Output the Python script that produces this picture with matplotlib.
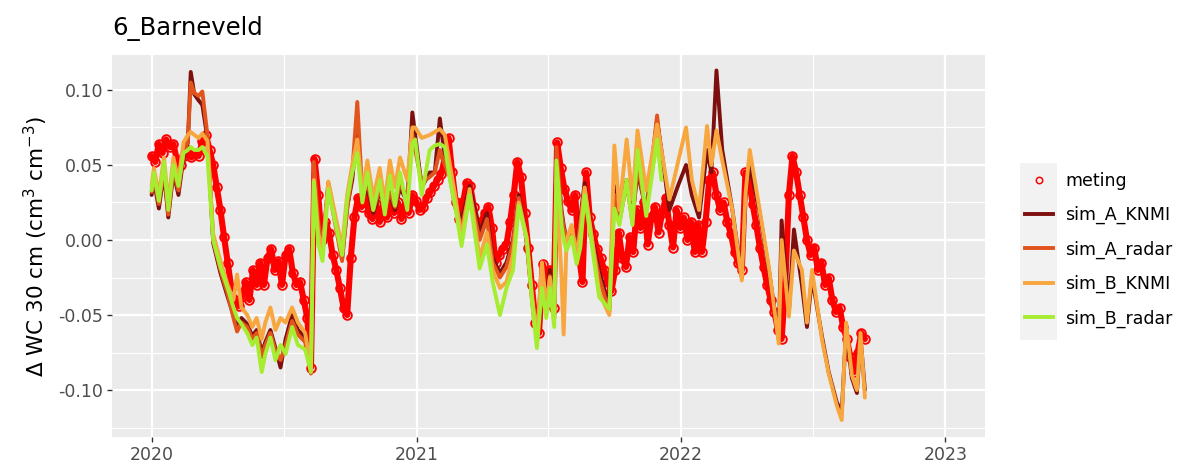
import matplotlib
matplotlib.use("Agg")
import matplotlib.pyplot as plt
from matplotlib.patches import Rectangle
from matplotlib.lines import Line2D
import pandas as pd

plt.rcParams['font.family'] = ['DejaVu Sans']

# ---------------------------------------------------------------- data
title = "6_Barneveld"
y_label = "\u0394 WC 30 cm (cm$^{3}$ cm$^{-3}$)"
x_tick_labels = ["2020", "2021", "2022", "2023"]
y_tick_values = [-0.10, -0.05, 0.00, 0.05, 0.10]
y_tick_labels = ["-0.10", "-0.05", "0.00", "0.05", "0.10"]
legend_labels = ["meting", "sim_A_KNMI", "sim_A_radar", "sim_B_KNMI", "sim_B_radar"]

# measured water content change, one reading every 5 days from 2020-01-01
meting_start = "2020-01-01"
meting_step = "5D"
meting = [
    0.056, 0.052, 0.064, 0.058, 0.067, 0.062, 0.064, 0.053, 0.050, 0.056,
    0.060, 0.055, 0.058, 0.056, 0.066, 0.070, 0.060, 0.050, 0.035, 0.020,
    0.002, -0.015, -0.032, -0.040, -0.044, -0.038, -0.028, -0.040, -0.020, -0.030,
    -0.015, -0.030, -0.012, -0.006, -0.020, -0.014, -0.030, -0.010, -0.006, -0.022,
    -0.030, -0.028, -0.040, -0.052, -0.085, 0.054, 0.030, 0.000, 0.012, 0.005,
    -0.010, -0.020, -0.032, -0.045, -0.050, -0.012, 0.015, 0.028, 0.022, 0.030,
    0.018, 0.014, 0.024, 0.012, 0.020, 0.015, 0.028, 0.018, 0.025, 0.014,
    0.022, 0.018, 0.030, 0.026, 0.020, 0.022, 0.028, 0.032, 0.036, 0.040,
    0.044, 0.055, 0.068, 0.045, 0.025, 0.014, 0.025, 0.038, 0.036, 0.022,
    0.010, 0.012, 0.018, 0.022, 0.008, -0.015, -0.010, -0.006, -0.003, 0.012,
    0.030, 0.052, 0.042, 0.018, -0.005, -0.030, -0.055, -0.062, -0.016, -0.030,
    -0.020, -0.045, 0.065, 0.048, 0.034, 0.026, 0.020, 0.030, -0.010, -0.028,
    0.045, 0.015, 0.004, -0.006, -0.012, -0.020, -0.028, -0.034, -0.020, 0.005,
    -0.012, -0.018, 0.002, -0.008, 0.020, 0.008, 0.025, -0.003, 0.015, 0.022,
    0.005, 0.018, 0.028, 0.010, -0.005, 0.020, 0.008, 0.015, 0.000, 0.012,
    -0.008, 0.010, -0.008, 0.012, 0.040, 0.045, 0.030, 0.020, 0.025, 0.012,
    0.004, -0.008, -0.015, -0.020, 0.045, 0.040, 0.024, 0.010, -0.005, -0.018,
    -0.030, -0.040, -0.048, -0.060, -0.066, -0.030, 0.030, 0.056, 0.045, 0.030,
    0.015, 0.000, -0.010, -0.005, -0.020, -0.015, -0.030, -0.025, -0.040, -0.048,
    -0.045, -0.058, -0.066, -0.078, -0.088, -0.075, -0.062, -0.066,
]

# simulated series share these dates; the radar runs stop in December 2021
sim_dates = [
    "2020-01-01", "2020-01-04", "2020-01-11", "2020-01-18", "2020-01-24",
    "2020-01-31", "2020-02-07", "2020-02-14", "2020-02-20", "2020-02-24",
    "2020-02-29", "2020-03-06", "2020-03-11", "2020-03-18", "2020-03-26",
    "2020-04-05", "2020-04-15", "2020-04-23", "2020-04-28", "2020-05-04",
    "2020-05-12", "2020-05-19", "2020-05-25", "2020-06-01", "2020-06-06",
    "2020-06-13", "2020-06-20", "2020-06-27", "2020-07-04", "2020-07-13",
    "2020-07-21", "2020-07-31", "2020-08-08", "2020-08-12", "2020-08-18",
    "2020-08-24", "2020-09-01", "2020-09-10", "2020-09-20", "2020-09-27",
    "2020-10-04", "2020-10-11", "2020-10-18", "2020-10-25", "2020-11-02",
    "2020-11-11", "2020-11-18", "2020-11-25", "2020-12-02", "2020-12-09",
    "2020-12-19", "2020-12-26", "2020-12-30", "2021-01-08", "2021-01-19",
    "2021-01-26", "2021-02-02", "2021-02-09", "2021-02-16", "2021-02-23",
    "2021-03-04", "2021-03-15", "2021-03-29", "2021-04-08", "2021-04-16",
    "2021-04-26", "2021-05-05", "2021-05-14", "2021-05-22", "2021-06-02",
    "2021-06-09", "2021-06-16", "2021-06-23", "2021-06-29", "2021-07-04",
    "2021-07-10", "2021-07-13", "2021-07-20", "2021-07-23", "2021-07-27",
    "2021-08-03", "2021-08-10", "2021-08-15", "2021-08-21", "2021-09-01",
    "2021-09-10", "2021-09-24", "2021-10-01", "2021-10-08", "2021-10-18",
    "2021-10-26", "2021-11-02", "2021-11-14", "2021-11-29", "2021-12-05",
    "2021-12-16", "2021-12-27", "2022-01-08", "2022-01-16", "2022-01-26",
    "2022-02-06", "2022-02-12", "2022-02-19", "2022-02-27", "2022-03-13",
    "2022-03-26", "2022-03-31", "2022-04-06", "2022-04-19", "2022-05-03",
    "2022-05-16", "2022-05-20", "2022-05-30", "2022-06-06", "2022-06-17",
    "2022-06-24", "2022-07-01", "2022-07-15", "2022-07-24", "2022-08-04",
    "2022-08-11", "2022-08-17", "2022-08-25", "2022-09-01", "2022-09-06",
    "2022-09-12",
]

sim_A_KNMI = [
    0.030, 0.040, 0.021, 0.045, 0.015, 0.045, 0.030, 0.055, 0.065, 0.112,
    0.097, 0.093, 0.090, 0.068, -0.002, -0.022, -0.038, -0.050, -0.058, -0.052,
    -0.056, -0.064, -0.060, -0.075, -0.068, -0.060, -0.072, -0.085, -0.066, -0.050,
    -0.060, -0.065, -0.088, 0.045, 0.010, -0.005, 0.038, 0.015, -0.012, 0.022,
    0.040, 0.075, 0.028, 0.035, 0.018, 0.032, 0.022, 0.030, 0.020, 0.035,
    0.025, 0.085, 0.070, 0.035, 0.045, 0.045, 0.081, 0.055, 0.045, 0.025,
    0.012, 0.036, 0.005, 0.018, -0.012, -0.022, -0.015, 0.000, 0.030, 0.002,
    -0.035, -0.062, -0.028, -0.040, -0.020, -0.050, 0.060, 0.020, 0.010, 0.000,
    0.008, -0.005, 0.015, 0.038, 0.000, -0.020, -0.045, 0.036, 0.015, 0.040,
    0.015, 0.045, 0.020, 0.080, 0.060, 0.020, 0.035, 0.050, 0.030, 0.015,
    0.060, 0.045, 0.113, 0.060, 0.020, -0.025, 0.030, 0.050, 0.020, -0.022,
    -0.066, 0.013, -0.048, 0.007, -0.030, -0.058, -0.025, -0.065, -0.088, -0.108,
    -0.115, -0.060, -0.092, -0.102, -0.065, -0.100,
]

sim_A_radar = [
    0.032, 0.042, 0.024, 0.048, 0.017, 0.047, 0.033, 0.058, 0.066, 0.105,
    0.098, 0.096, 0.099, 0.070, 0.000, -0.020, -0.036, -0.052, -0.061, -0.055,
    -0.058, -0.066, -0.062, -0.078, -0.070, -0.062, -0.074, -0.080, -0.070, -0.054,
    -0.063, -0.068, -0.089, 0.052, 0.012, -0.004, 0.036, 0.012, -0.014, 0.020,
    0.045, 0.092, 0.030, 0.038, 0.020, 0.034, 0.020, 0.032, 0.022, 0.038,
    0.028, 0.070, 0.060, 0.038, 0.042, 0.045, 0.060, 0.050, 0.042, 0.022,
    0.008, 0.032, 0.000, 0.014, -0.015, -0.025, -0.018, -0.002, 0.028, 0.000,
    -0.038, -0.065, -0.030, -0.045, -0.024, -0.052, 0.062, 0.018, 0.008, 0.002,
    0.006, -0.008, 0.012, 0.034, -0.003, -0.025, -0.048, 0.030, 0.012, 0.038,
    0.012, 0.050, 0.018, 0.083, 0.055,
]

sim_B_KNMI = [
    0.036, 0.048, 0.030, 0.055, 0.024, 0.055, 0.040, 0.065, 0.070, 0.072,
    0.070, 0.068, 0.071, 0.066, 0.004, -0.014, -0.030, -0.040, -0.023, -0.045,
    -0.050, -0.058, -0.052, -0.066, -0.055, -0.045, -0.060, -0.052, -0.055, -0.045,
    -0.055, -0.062, -0.085, 0.040, 0.005, -0.008, 0.039, 0.018, -0.005, 0.030,
    0.050, 0.067, 0.032, 0.053, 0.028, 0.048, 0.025, 0.053, 0.035, 0.055,
    0.040, 0.075, 0.075, 0.068, 0.070, 0.072, 0.074, 0.070, 0.050, 0.030,
    0.002, 0.034, -0.012, 0.005, -0.020, -0.032, -0.028, -0.010, 0.025, 0.002,
    -0.035, -0.065, -0.015, -0.045, -0.025, -0.052, 0.040, -0.025, -0.063, 0.000,
    0.010, -0.010, 0.005, 0.035, -0.002, -0.035, -0.050, 0.063, 0.020, 0.067,
    0.027, 0.073, 0.033, 0.077, 0.060, 0.027, 0.050, 0.075, 0.040, 0.020,
    0.076, 0.050, 0.073, 0.053, 0.020, -0.027, 0.030, 0.060, 0.022, -0.020,
    -0.069, 0.000, -0.051, -0.007, -0.020, -0.055, -0.020, -0.067, -0.089, -0.110,
    -0.120, -0.055, -0.090, -0.100, -0.062, -0.105,
]

sim_B_radar = [
    0.033, 0.045, 0.026, 0.052, 0.020, 0.050, 0.036, 0.058, 0.060, 0.062,
    0.060, 0.060, 0.062, 0.056, 0.000, -0.018, -0.032, -0.045, -0.052, -0.056,
    -0.062, -0.070, -0.065, -0.088, -0.076, -0.065, -0.080, -0.070, -0.076, -0.058,
    -0.070, -0.073, -0.088, 0.039, -0.002, -0.014, 0.034, 0.013, -0.010, 0.027,
    0.045, 0.058, 0.025, 0.045, 0.020, 0.040, 0.017, 0.043, 0.023, 0.045,
    0.020, 0.064, 0.067, 0.030, 0.060, 0.063, 0.064, 0.062, 0.040, 0.023,
    -0.004, 0.030, -0.019, -0.003, -0.028, -0.050, -0.032, -0.020, 0.023, 0.000,
    -0.040, -0.072, -0.032, -0.052, -0.032, -0.058, 0.053, 0.010, 0.000, -0.007,
    0.002, -0.016, -0.005, 0.030, -0.007, -0.038, -0.046, 0.021, 0.010, 0.040,
    0.010, 0.060, 0.016, 0.067, 0.040,
]

colors = {
    "meting": "#FF0000",
    "sim_A_KNMI": "#7E0F0F",
    "sim_A_radar": "#E2541C",
    "sim_B_KNMI": "#F8A63E",
    "sim_B_radar": "#A6EC30",
}

# ---------------------------------------------------------------- figure
fig = plt.figure(figsize=(12, 4.71), dpi=100)
ax = fig.add_axes([0.0933, 0.0722, 0.7275, 0.811])
ax.set_facecolor("#EBEBEB")
for s in ax.spines.values():
    s.set_visible(False)

# measurements: dense open circles forming a band
meting_dates = pd.date_range(meting_start, periods=len(meting), freq=meting_step)
ax.plot(meting_dates, meting, color=colors["meting"], linewidth=4.4,
        solid_joinstyle="round", solid_capstyle="round", zorder=2)
ax.plot(meting_dates, meting, linestyle="none", marker="o", markersize=6.2,
        markerfacecolor="none", markeredgecolor=colors["meting"],
        markeredgewidth=1.4, zorder=2)

dates = pd.to_datetime(sim_dates)
line_kw = dict(linewidth=2.8, solid_joinstyle="round", solid_capstyle="round")
ax.plot(dates[:len(sim_A_KNMI)], sim_A_KNMI, color=colors["sim_A_KNMI"], zorder=3, **line_kw)
ax.plot(dates[:len(sim_A_radar)], sim_A_radar, color=colors["sim_A_radar"], zorder=4, **line_kw)
ax.plot(dates[:len(sim_B_KNMI)], sim_B_KNMI, color=colors["sim_B_KNMI"], zorder=5, **line_kw)
ax.plot(dates[:len(sim_B_radar)], sim_B_radar, color=colors["sim_B_radar"], zorder=6, **line_kw)

# axes ranges: years 2020-2023 with a 5 % margin
x0 = pd.Timestamp("2020-01-01")
x1 = pd.Timestamp("2023-01-01")
pad = (x1 - x0) * 0.05
ax.set_xlim(x0 - pad, x1 + pad)
ax.set_ylim(-0.1313, 0.1233)

year_ticks = pd.to_datetime([f"{y}-01-01" for y in x_tick_labels])
mid_ticks = pd.to_datetime(["2020-07-02", "2021-07-02", "2022-07-02"])
ax.set_xticks(year_ticks)
ax.set_xticklabels(x_tick_labels)
ax.set_xticks(mid_ticks, minor=True)
ax.set_yticks(y_tick_values)
ax.set_yticklabels(y_tick_labels)
ax.set_yticks([-0.125, -0.075, -0.025, 0.025, 0.075], minor=True)

ax.grid(which="major", color="white", linewidth=1.6, zorder=0)
ax.grid(which="minor", color="white", linewidth=0.8, zorder=0)
ax.set_axisbelow(True)

ax.tick_params(which="major", length=3.5, width=1.0, color="#333333",
               labelsize=12.5, labelcolor="#4D4D4D", pad=3)
ax.tick_params(which="minor", length=0)

ax.set_ylabel(y_label, fontsize=15.5, color="black", labelpad=6)
fig.text(0.0933, 0.925, title, fontsize=17.5, color="black", ha="left", va="baseline")

# legend with grey key column
fig.patches.append(Rectangle((1020 / 1200, 1 - 340 / 471), 37 / 1200, 177 / 471,
                             transform=fig.transFigure, facecolor="#F2F2F2",
                             edgecolor="none", zorder=0))
handles = [
    Line2D([], [], linestyle="none", marker="o", markersize=4.6,
           markerfacecolor="none", markeredgecolor=colors["meting"], markeredgewidth=1.1),
    Line2D([], [], color=colors["sim_A_KNMI"], linewidth=2.8),
    Line2D([], [], color=colors["sim_A_radar"], linewidth=2.8),
    Line2D([], [], color=colors["sim_B_KNMI"], linewidth=2.8),
    Line2D([], [], color=colors["sim_B_radar"], linewidth=2.8),
]
fig.legend(handles, legend_labels, loc="upper left",
           bbox_to_anchor=(1025 / 1200, 1 - 172 / 471), frameon=False,
           fontsize=12.5, handlelength=1.6, handletextpad=0.7,
           labelspacing=0.93, borderpad=0, borderaxespad=0)

fig.savefig("out.png", dpi=100)
